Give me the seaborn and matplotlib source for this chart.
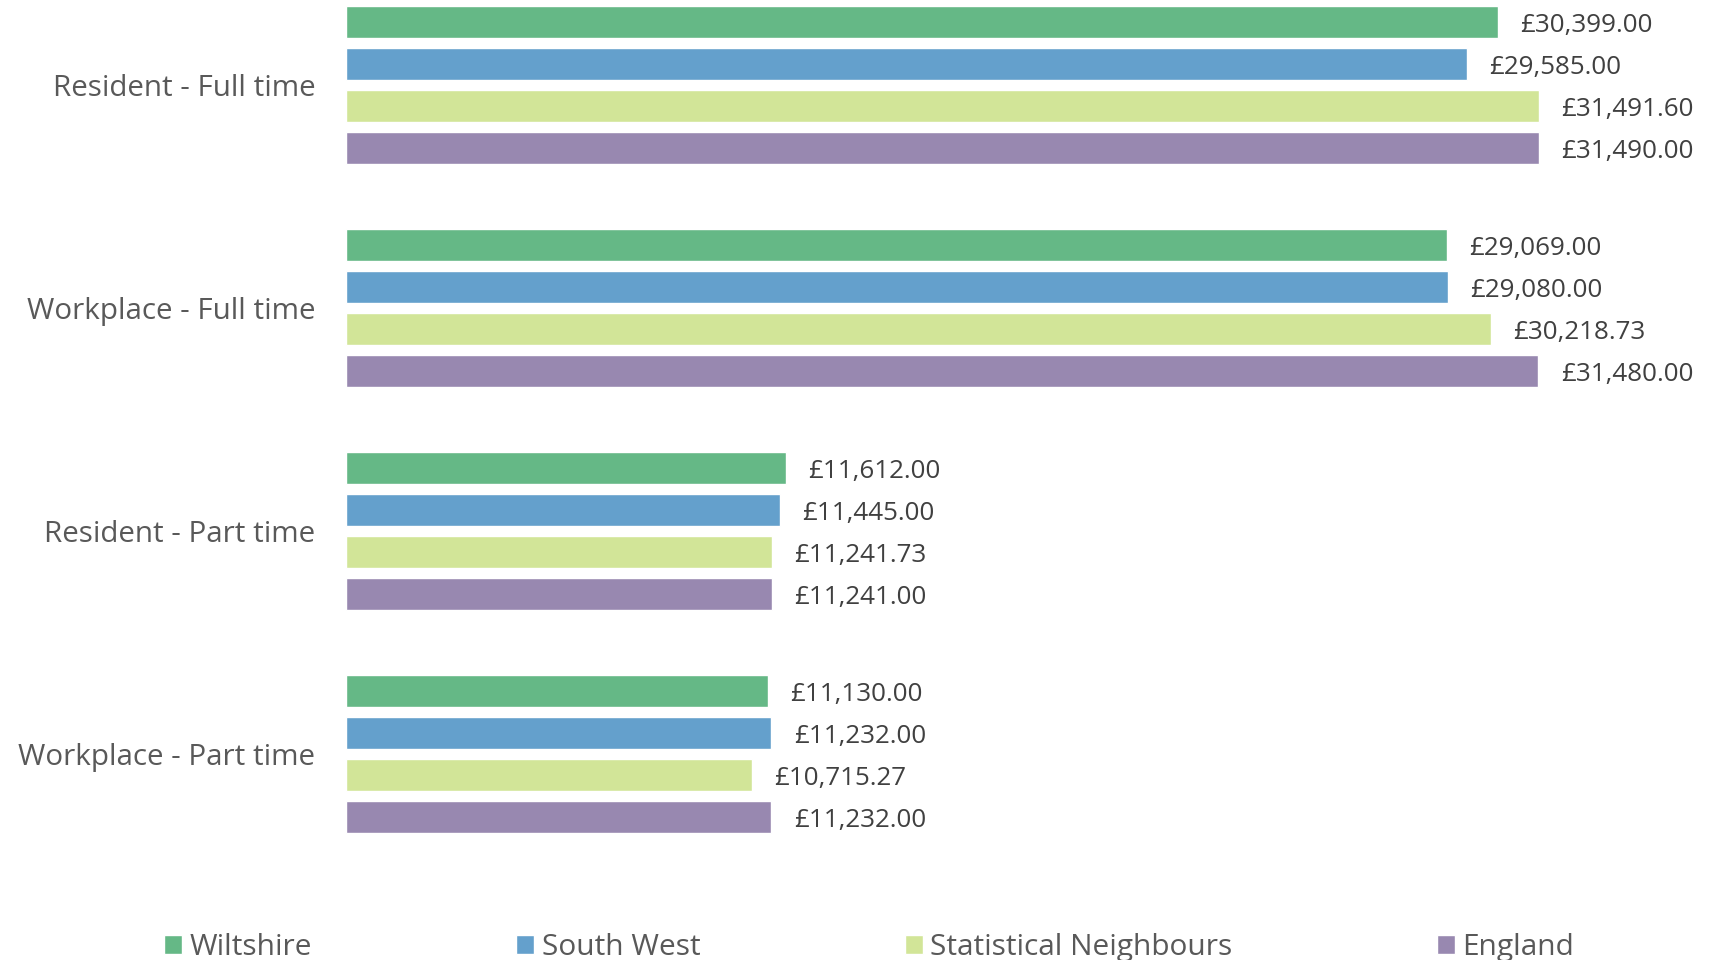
import pandas as pd
import matplotlib.pyplot as plt
import seaborn as sns


# data

categories = ["Resident - Full time", "Workplace - Full time",
              "Resident - Part time", "Workplace - Part time"]
areas = ["Wiltshire", "South West", "Statistical Neighbours", "England"]

wiltshire = [30399.00, 29069.00, 11612.00, 11130.00]
south_west = [29585.00, 29080.00, 11445.00, 11232.00]
stat_neighbours = [31491.60, 30218.73, 11241.73, 10715.27]
england = [31490.00, 31480.00, 11241.00, 11232.00]

colours = ["#65B886", "#64A0CC", "#D2E598", "#9888B0"]


# long form table for seaborn

rows = []
for area, vals in zip(areas, [wiltshire, south_west, stat_neighbours, england]):
    for cat, v in zip(categories, vals):
        rows.append({"category": cat, "area": area, "pay": v})
df = pd.DataFrame(rows)


sns.set_style("white")
plt.rcParams["font.family"] = ["Open Sans", "DejaVu Sans"]

fig = plt.figure(figsize=(17.16, 9.6), dpi=100)
ax = fig.add_axes([346 / 1716, 0.125, 1 - 346 / 1716, 0.875])

sns.barplot(data=df, y="category", x="pay", hue="area", order=categories,
            hue_order=areas, palette=colours, saturation=1, orient="h",
            width=0.753, gap=0.238, errorbar=None, ax=ax, legend=True)

ax.set_xlim(0, 36166)
ax.set_ylim(3.385, -0.382)

for cont in ax.containers:
    texts = ax.bar_label(cont, fmt=lambda v: f"£{v:,.2f}", padding=16,
                         fontsize=18.7, color="#404040")
    for t in texts:
        t.set_va("center_baseline")

ax.set_xlabel("")
ax.set_ylabel("")
ax.set_xticks([])
ax.tick_params(axis="y", length=0, pad=22, labelsize=21.3, labelcolor="#595959")
sns.despine(ax=ax, left=True, bottom=True, top=True, right=True)

# legend along the bottom
handles, labels = ax.get_legend_handles_labels()
ax.get_legend().remove()
fig.legend(handles, labels, loc="center left", bbox_to_anchor=(164 / 1716, 0.013),
           ncol=4, frameon=False, fontsize=21.5, labelcolor="#595959",
           handlelength=0.6, handleheight=0.6, handletextpad=0.25,
           columnspacing=6.85, borderpad=0, borderaxespad=0)

fig.savefig("out.png", dpi=100)
